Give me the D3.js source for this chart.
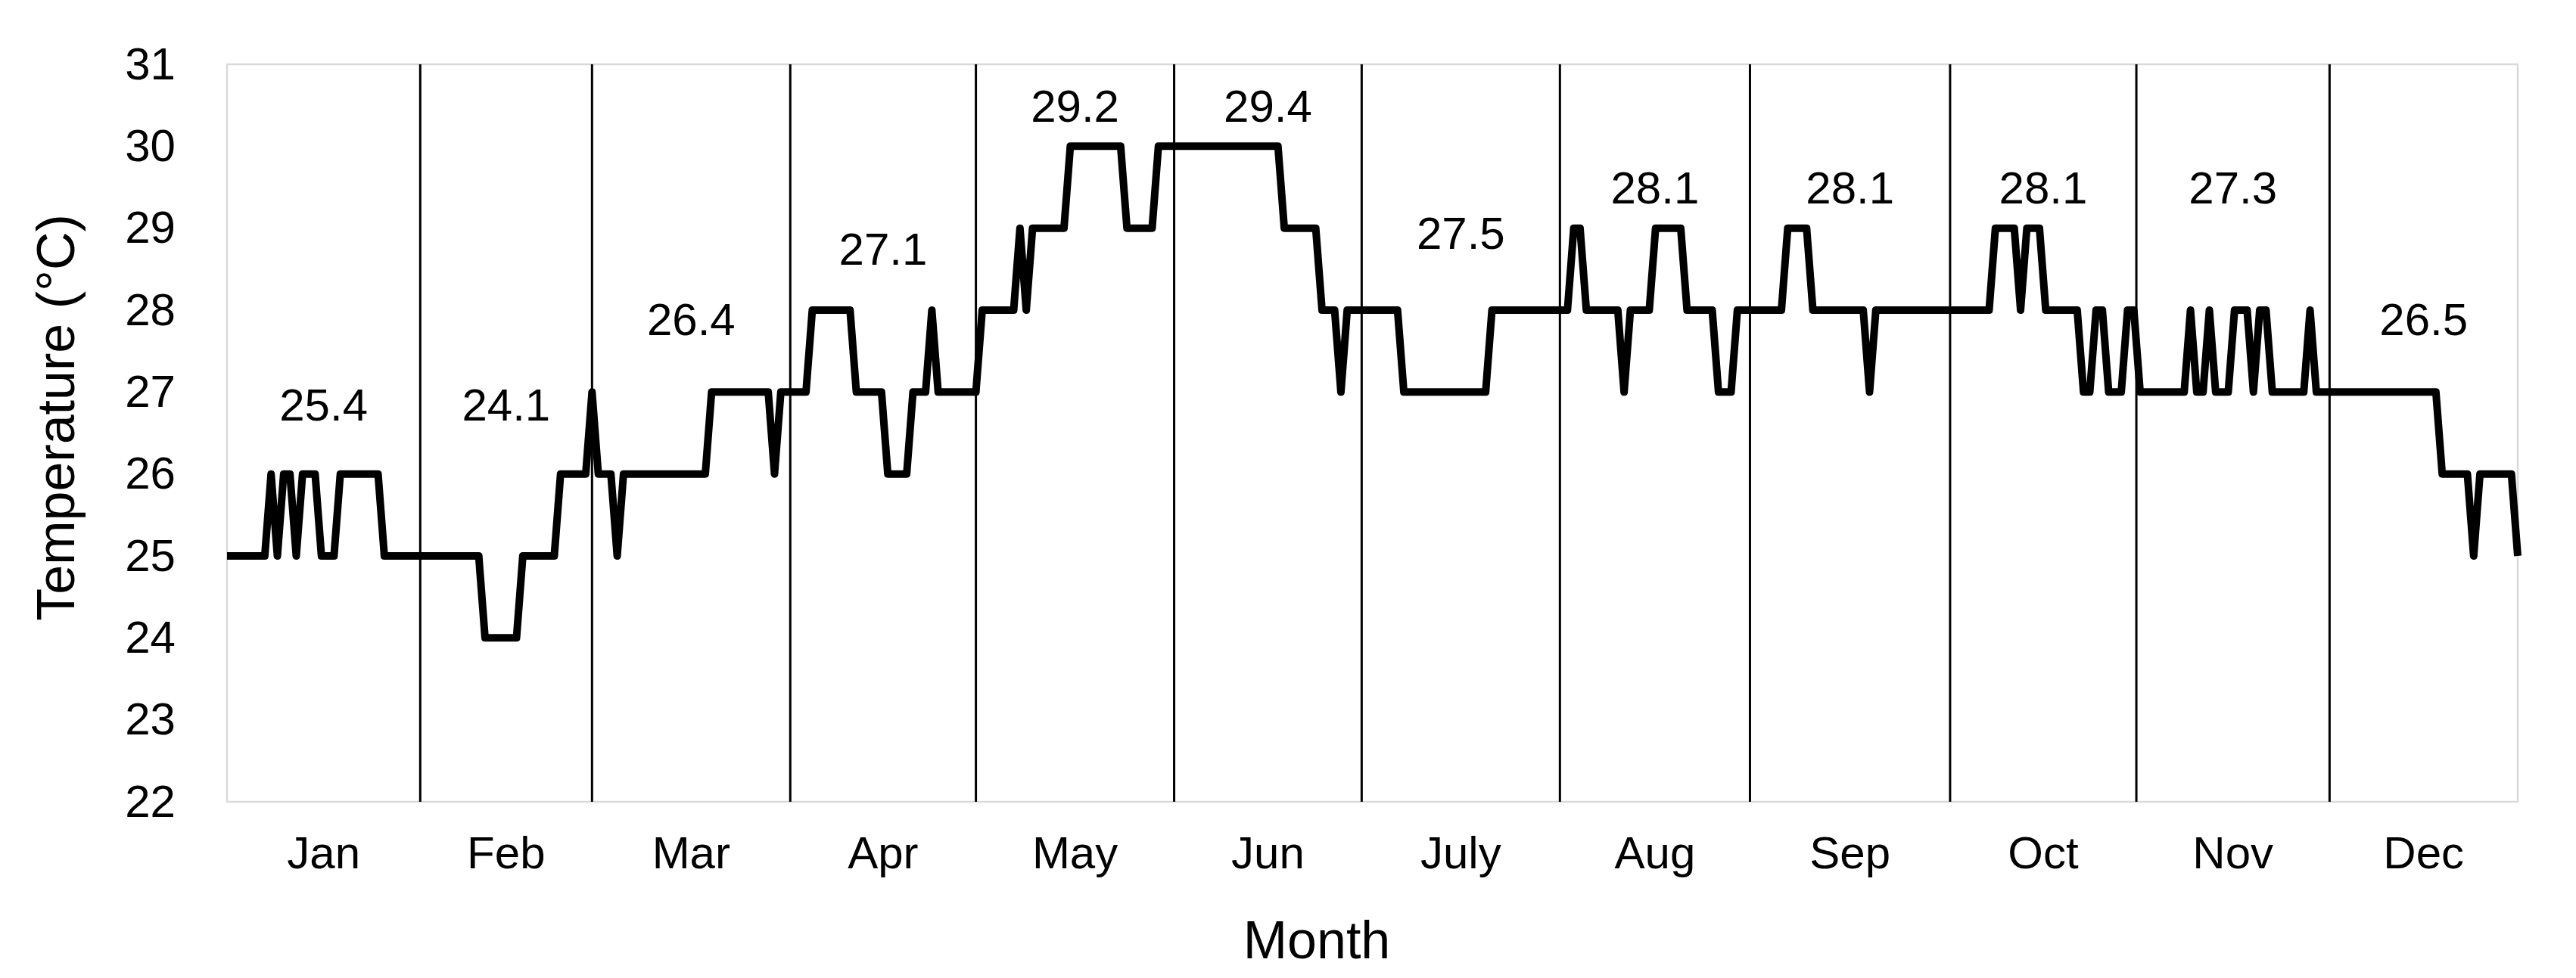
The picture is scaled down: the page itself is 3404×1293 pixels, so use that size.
<!DOCTYPE html>
<html>
<head>
<meta charset="utf-8">
<script src="https://cdn.jsdelivr.net/npm/d3@7"></script>
<style>
  html, body { margin: 0; padding: 0; background: #fff; }
  svg text { font-family: "Liberation Sans", Arial, sans-serif; fill: #000; }
</style>
</head>
<body>
<svg id="chart" width="3404" height="1293"></svg>
<script>
// ---- Data (daily temperature, °C) ----
const jan = [25,25,25,25,25,25,25,26,25,26,26,25,26,26,26,25,25,25,26,26,26,26,26,26,26,25,25,25,25,25,25];
const feb = [25,25,25,25,25,25,25,25,25,25,24,24,24,24,24,24,25,25,25,25,25,25,26,26,26,26,26,27];
const mar = [26,26,26,25,26,26,26,26,26,26,26,26,26,26,26,26,26,26,27,27,27,27,27,27,27,27,27,27,26,27,27];
const apr = [27,27,27,28,28,28,28,28,28,28,27,27,27,27,27,26,26,26,26,27,27,27,28,27,27,27,27,27,27,27];
const may = [28,28,28,28,28,28,29,28,29,29,29,29,29,29,30,30,30,30,30,30,30,30,30,29,29,29,29,29,30,30,30];
const jun = [30,30,30,30,30,30,30,30,30,30,30,30,30,30,30,30,30,29,29,29,29,29,29,28,28,28,27,28,28,28];
const jul = [28,28,28,28,28,28,27,27,27,27,27,27,27,27,27,27,27,27,27,27,28,28,28,28,28,28,28,28,28,28,28];
const aug = [28,28,29,29,28,28,28,28,28,28,27,28,28,28,28,29,29,29,29,29,28,28,28,28,28,27,27,27,28,28,28];
const sep = [28,28,28,28,28,29,29,29,29,28,28,28,28,28,28,28,28,28,27,28,28,28,28,28,28,28,28,28,28,28];
const oct = [28,28,28,28,28,28,28,28,29,29,29,29,28,29,29,29,28,28,28,28,28,28,27,27,28,28,27,27,27,28,28];
const nov = [27,27,27,27,27,27,27,27,28,27,27,28,27,27,27,28,28,28,27,28,28,27,27,27,27,27,27,28,27,27];
const dec = [27,27,27,27,27,27,27,27,27,27,27,27,27,27,27,27,27,27,26,26,26,26,26,25,26,26,26,26,26,26,25];

const monthNames = ["Jan","Feb","Mar","Apr","May","Jun","July","Aug","Sep","Oct","Nov","Dec"];
const monthMeans = ["25.4","24.1","26.4","27.1","29.2","29.4","27.5","28.1","28.1","28.1","27.3","26.5"];
// height (in °C) at which each monthly value label sits
const meanLabelAt = [26.65,26.65,27.7,28.55,30.3,30.3,28.75,29.3,29.3,29.3,29.3,27.7];
// month separator positions (day index)
const separatorDays = [30.7,58.0,89.5,119.0,150.5,180.3,211.8,242.0,273.8,303.4,334.1];
const yTicks = [22,23,24,25,26,27,28,29,30,31];

// ---- Build ----
const daily = [].concat(jan,feb,mar,apr,may,jun,jul,aug,sep,oct,nov,dec);
const svg = d3.select("#chart");
svg.append("rect").attr("width",3404).attr("height",1293).attr("fill","#fff");

const x = d3.scaleLinear().domain([0, daily.length - 1]).range([300, 3327]);
const y = d3.scaleLinear().domain([22, 31]).range([1060, 85]);

// plot frame
svg.append("rect")
  .attr("x", x(0)).attr("y", y(31))
  .attr("width", x(daily.length - 1) - x(0)).attr("height", y(22) - y(31))
  .attr("fill", "none").attr("stroke", "#d9d9d9").attr("stroke-width", 2.5);

// y axis
const yAxis = svg.append("g")
  .attr("transform", `translate(${x(0)},0)`)
  .call(d3.axisLeft(y).tickValues(yTicks).tickSize(0).tickPadding(68).tickFormat(d3.format("d")));
yAxis.select(".domain").remove();
yAxis.selectAll("text").style("font-size", "60px").attr("fill", "#000")
  .style("font-family", "'Liberation Sans', Arial, sans-serif");

// separators
svg.append("g").selectAll("line").data(separatorDays).join("line")
  .attr("x1", d => x(d)).attr("x2", d => x(d))
  .attr("y1", y(31)).attr("y2", y(22))
  .attr("stroke", "#000").attr("stroke-width", 3);

// month boundaries for centering
const bounds = [0].concat(separatorDays, [daily.length - 1]);
const centers = monthNames.map((m, i) => (bounds[i] + bounds[i + 1]) / 2);

// month labels
svg.append("g").selectAll("text").data(monthNames).join("text")
  .attr("x", (d, i) => x(centers[i])).attr("y", 1148)
  .attr("text-anchor", "middle").style("font-size", "60px")
  .text(d => d);

// temperature line
const line = d3.line().x((d, i) => x(i)).y(d => y(d));
svg.append("path").datum(daily)
  .attr("d", line).attr("fill", "none")
  .attr("stroke", "#000").attr("stroke-width", 10)
  .attr("stroke-linejoin", "round").attr("stroke-linecap", "butt");

// monthly value labels
svg.append("g").selectAll("text").data(monthMeans).join("text")
  .attr("x", (d, i) => x(centers[i])).attr("y", (d, i) => y(meanLabelAt[i]))
  .attr("text-anchor", "middle").style("font-size", "60px")
  .text(d => d);

// axis titles
svg.append("text")
  .attr("transform", "translate(98,552) rotate(-90)")
  .attr("text-anchor", "middle").style("font-size", "70px")
  .text("Temperature (°C)");
svg.append("text")
  .attr("x", 1740).attr("y", 1267)
  .attr("text-anchor", "middle").style("font-size", "70px")
  .text("Month");
</script>
</body>
</html>
